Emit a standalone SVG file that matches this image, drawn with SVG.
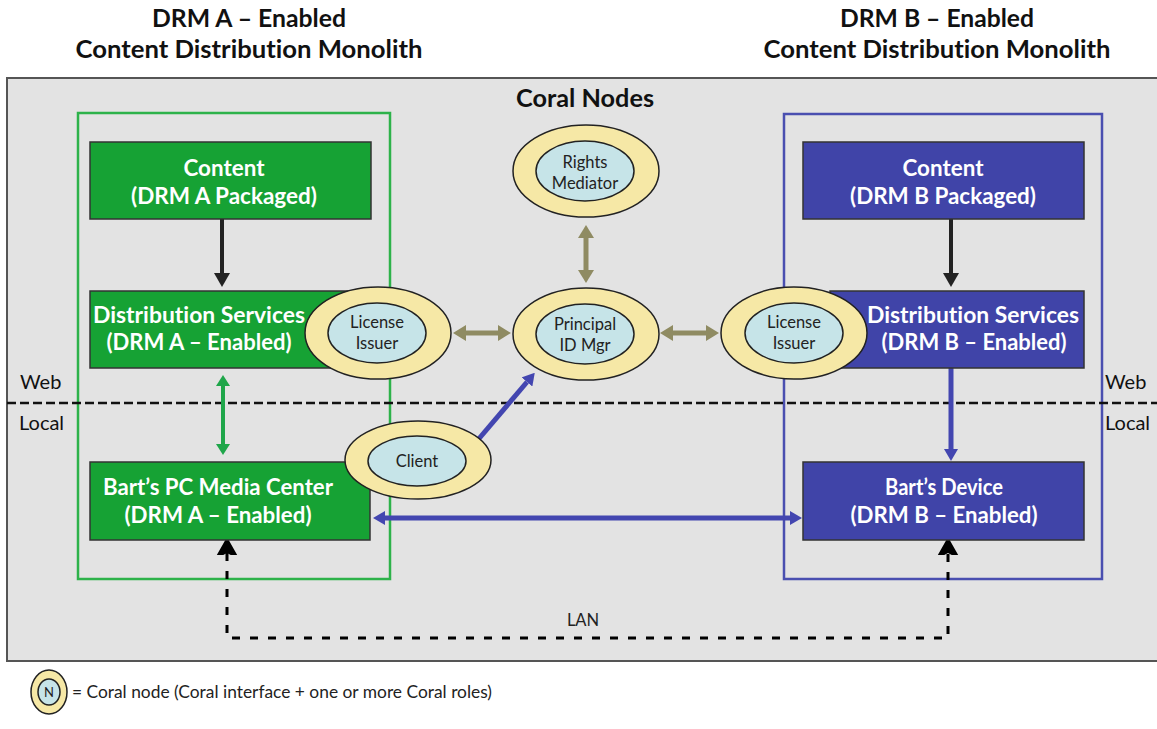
<svg xmlns="http://www.w3.org/2000/svg" width="1157" height="729" viewBox="0 0 1157 729">
<style>
text{font-variant-ligatures:none}
.title{font-family:Lato,"Liberation Sans",sans-serif;font-weight:bold;font-size:24px;fill:#111;text-anchor:middle}
.boxA{fill:#16a234;stroke:#333;stroke-width:1.5}
.boxB{fill:#4044a8;stroke:#333;stroke-width:1.5}
.btxt{font-family:Lato,"Liberation Sans",sans-serif;font-weight:bold;font-size:22px;fill:#fff;text-anchor:middle}
.outer{fill:#f6e8a6;stroke:#222;stroke-width:1.5}
.inner{fill:#c6e4e8;stroke:#222;stroke-width:1.5}
.ntxt{font-family:Lato,"Liberation Sans",sans-serif;font-size:16.5px;fill:#222;text-anchor:middle}
.lbl{font-family:Lato,"Liberation Sans",sans-serif;font-size:20px;fill:#111}
.olive{stroke:#8f8b62;stroke-width:5;fill:none}
.blue{stroke:#4346b0;stroke-width:5;fill:none}
.green{stroke:#1fa64a;stroke-width:4;fill:none}
.black{stroke:#222;stroke-width:4;fill:none}
</style>
<defs>
<marker id="hOlive" viewBox="0 -8 13 16" refX="0" refY="0" markerWidth="13" markerHeight="16" markerUnits="userSpaceOnUse" orient="auto-start-reverse"><path d="M0,-8 L13,0 L0,8 z" fill="#8f8b62"/></marker>
<marker id="hBlue" viewBox="0 -7 12 14" refX="0" refY="0" markerWidth="12" markerHeight="14" markerUnits="userSpaceOnUse" orient="auto-start-reverse"><path d="M0,-7 L12,0 L0,7 z" fill="#4346b0"/></marker>
<marker id="hGreen" viewBox="0 -7 11 14" refX="0" refY="0" markerWidth="11" markerHeight="14" markerUnits="userSpaceOnUse" orient="auto-start-reverse"><path d="M0,-7 L11,0 L0,7 z" fill="#1fa64a"/></marker>
<marker id="hBlack" viewBox="0 -8 14 16" refX="0" refY="0" markerWidth="14" markerHeight="16" markerUnits="userSpaceOnUse" orient="auto-start-reverse"><path d="M0,-8 L14,0 L0,8 z" fill="#222"/></marker>
<marker id="hStealth" viewBox="-2 -13 25 26" refX="0" refY="0" markerWidth="25" markerHeight="26" markerUnits="userSpaceOnUse" orient="auto-start-reverse"><path d="M16,0 L-7,-13 L0,0 L-7,13 z" fill="#000"/></marker>
</defs>

<rect width="1157" height="729" fill="#fff"/>
<rect x="7" y="78" width="1160" height="583" fill="#e3e3e3" stroke="#555" stroke-width="2"/>

<g id="titles">
<text class="title" x="249" y="27" textLength="194" lengthAdjust="spacingAndGlyphs">DRM A – Enabled</text>
<text class="title" x="249" y="58" textLength="347" lengthAdjust="spacingAndGlyphs">Content Distribution Monolith</text>
<text class="title" x="937" y="27" textLength="194" lengthAdjust="spacingAndGlyphs">DRM B – Enabled</text>
<text class="title" x="937" y="58" textLength="347" lengthAdjust="spacingAndGlyphs">Content Distribution Monolith</text>
<text class="title" x="585" y="107" textLength="138" lengthAdjust="spacingAndGlyphs">Coral Nodes</text>
</g>

<g id="monolith-a"><rect x="78" y="113" width="312" height="466" fill="none" stroke="#2db24a" stroke-width="2.5"/></g>
<g id="monolith-b"><rect x="784" y="114" width="318" height="465" fill="none" stroke="#4a4fb0" stroke-width="2.5"/></g>

<g id="web-local">
<line x1="7" y1="403" x2="1157" y2="403" stroke="#111" stroke-width="2.5" stroke-dasharray="9 4"/>
<text class="lbl" x="20" y="389">Web</text>
<text class="lbl" x="19" y="430">Local</text>
<text class="lbl" x="1105" y="389">Web</text>
<text class="lbl" x="1105" y="430">Local</text>
</g>

<g id="connectors">
<path class="black" d="M222,219 V273" marker-end="url(#hBlack)"/>
<path class="black" d="M951,219 V273" marker-end="url(#hBlack)"/>
<path class="olive" d="M586,238 V270" marker-start="url(#hOlive)" marker-end="url(#hOlive)"/>
<path class="olive" d="M466,333 H498" marker-start="url(#hOlive)" marker-end="url(#hOlive)"/>
<path class="olive" d="M673,333 H706" marker-start="url(#hOlive)" marker-end="url(#hOlive)"/>
<path class="green" d="M223,386 V444" marker-start="url(#hGreen)" marker-end="url(#hGreen)"/>
<path class="blue" d="M951,368 V449" marker-end="url(#hBlue)"/>
<path class="blue" d="M477,441 L527,382" marker-end="url(#hBlue)"/>
<path class="blue" d="M385,518 H790" marker-start="url(#hBlue)" marker-end="url(#hBlue)"/>
<path d="M227,553 V638 H948 V553" fill="none" stroke="#000" stroke-width="3" stroke-dasharray="8 10" marker-start="url(#hStealth)" marker-end="url(#hStealth)"/>
<text class="ntxt" x="583" y="626">LAN</text>
</g>

<g id="content-a">
<rect class="boxA" x="90" y="142" width="281" height="77"/>
<text class="btxt" x="224" y="176" textLength="81" lengthAdjust="spacingAndGlyphs">Content</text>
<text class="btxt" x="224" y="204" textLength="186" lengthAdjust="spacingAndGlyphs">(DRM A Packaged)</text>
</g>
<g id="dist-a">
<rect class="boxA" x="90" y="291" width="262" height="77"/>
<text class="btxt" x="199" y="323" textLength="212" lengthAdjust="spacingAndGlyphs">Distribution Services</text>
<text class="btxt" x="199" y="350" textLength="185" lengthAdjust="spacingAndGlyphs">(DRM A – Enabled)</text>
</g>
<g id="pc-a">
<rect class="boxA" x="90" y="462" width="280" height="78"/>
<text class="btxt" x="218" y="495" textLength="230" lengthAdjust="spacingAndGlyphs">Bart’s PC Media Center</text>
<text class="btxt" x="218" y="523" textLength="187" lengthAdjust="spacingAndGlyphs">(DRM A – Enabled)</text>
</g>

<g id="content-b">
<rect class="boxB" x="803" y="142" width="281" height="77"/>
<text class="btxt" x="943" y="176" textLength="81" lengthAdjust="spacingAndGlyphs">Content</text>
<text class="btxt" x="943" y="204" textLength="186" lengthAdjust="spacingAndGlyphs">(DRM B Packaged)</text>
</g>
<g id="dist-b">
<rect class="boxB" x="830" y="291" width="254" height="77"/>
<text class="btxt" x="973" y="323" textLength="212" lengthAdjust="spacingAndGlyphs">Distribution Services</text>
<text class="btxt" x="974" y="350" textLength="185" lengthAdjust="spacingAndGlyphs">(DRM B – Enabled)</text>
</g>
<g id="device-b">
<rect class="boxB" x="803" y="462" width="281" height="78"/>
<text class="btxt" x="944" y="495" textLength="118" lengthAdjust="spacingAndGlyphs">Bart’s Device</text>
<text class="btxt" x="944" y="523" textLength="187" lengthAdjust="spacingAndGlyphs">(DRM B – Enabled)</text>
</g>

<g id="license-issuer-a">
<ellipse class="outer" cx="378" cy="333" rx="73" ry="46"/>
<ellipse class="inner" cx="377" cy="333" rx="49" ry="30"/>
<text class="ntxt" x="377" y="328">License</text>
<text class="ntxt" x="377" y="349">Issuer</text>
</g>
<g id="rights-mediator">
<ellipse class="outer" cx="586" cy="171" rx="73" ry="46"/>
<ellipse class="inner" cx="585" cy="171" rx="49" ry="30"/>
<text class="ntxt" x="585" y="168">Rights</text>
<text class="ntxt" x="585" y="189">Mediator</text>
</g>
<g id="principal-id-mgr">
<ellipse class="outer" cx="586" cy="334" rx="73" ry="46"/>
<ellipse class="inner" cx="585" cy="334" rx="49" ry="30"/>
<text class="ntxt" x="585" y="330">Principal</text>
<text class="ntxt" x="585" y="351">ID Mgr</text>
</g>
<g id="license-issuer-b">
<ellipse class="outer" cx="794" cy="333" rx="73" ry="46"/>
<ellipse class="inner" cx="794" cy="333" rx="49" ry="30"/>
<text class="ntxt" x="794" y="328">License</text>
<text class="ntxt" x="794" y="349">Issuer</text>
</g>
<g id="client">
<ellipse class="outer" cx="418" cy="460" rx="73" ry="39"/>
<ellipse class="inner" cx="417" cy="461" rx="49" ry="25"/>
<text class="ntxt" x="417" y="467">Client</text>
</g>

<g id="legend">
<ellipse class="outer" cx="49" cy="692" rx="18" ry="22"/>
<ellipse class="inner" cx="49" cy="692" rx="11" ry="13"/>
<text class="ntxt" x="49" y="697" style="font-size:13px">N</text>
<text x="72" y="698" textLength="420" lengthAdjust="spacingAndGlyphs" style="font-family:Lato,'Liberation Sans',sans-serif;font-size:17px;fill:#222">= Coral node (Coral interface + one or more Coral roles)</text>
</g>
</svg>
